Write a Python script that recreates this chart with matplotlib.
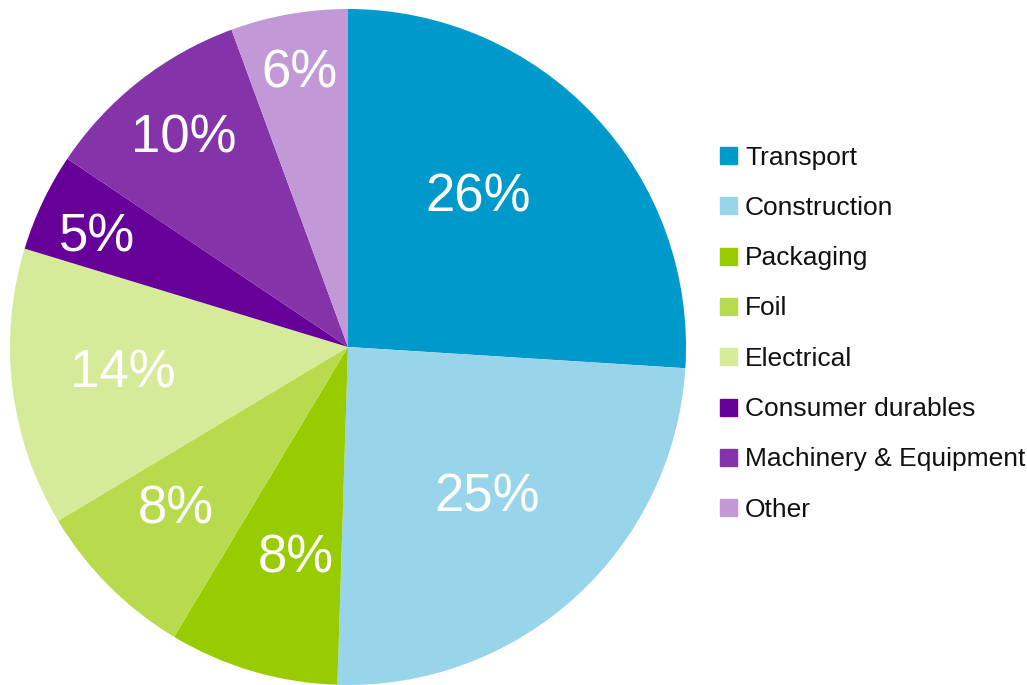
import matplotlib
matplotlib.use("Agg")
import numpy as np
import matplotlib.pyplot as plt
from matplotlib.patches import Rectangle

plt.rcParams['font.family'] = ['Liberation Sans', 'DejaVu Sans']

categories = ['Transport', 'Construction', 'Packaging', 'Foil', 'Electrical',
              'Consumer durables', 'Machinery & Equipment', 'Other']
shares = [26, 24.5, 8.1, 7.8, 13.3, 4.7, 10, 5.6]
pct_labels = ['26%', '25%', '8%', '8%', '14%', '5%', '10%', '6%']
colors = ['#0099CC', '#99D5EA', '#99CC00', '#B8DB4D', '#D6EB99',
          '#660099', '#8533A8', '#C299D6']
# label placement: fraction of radius, and angular nudge from the wedge middle (deg)
label_dist = [0.60, 0.594, 0.628, 0.689, 0.669, 0.817, 0.798, 0.837]
label_shift = [6.8, 1.5, 2.2, -2.6, -1.7, 0.8, -0.7, -0.3]

W, H = 1027, 685
fig = plt.figure(figsize=(W / 100, H / 100), dpi=100)

cx, cy, r = 348, 347, 338
ax = fig.add_axes([(cx - r) / W, (H - cy - r) / H, 2 * r / W, 2 * r / H])
wedges, _ = ax.pie(shares, colors=colors, startangle=90, counterclock=False,
                   radius=1, wedgeprops=dict(linewidth=0))
ax.set_xlim(-1, 1)
ax.set_ylim(-1, 1)
ax.set_aspect('equal')
ax.axis('off')

for w, lab, d, s in zip(wedges, pct_labels, label_dist, label_shift):
    ang = np.deg2rad((w.theta1 + w.theta2) / 2 + s)
    ax.text(d * np.cos(ang), d * np.sin(ang), lab, color='white',
            fontsize=38, ha='center', va='center_baseline')

# legend
y0, step = 155.5, 50.3
for i, (name, c) in enumerate(zip(categories, colors)):
    y = y0 + i * step
    fig.patches.append(Rectangle((720 / W, (H - y - 8.5) / H), 17 / W, 17 / H,
                                 transform=fig.transFigure, color=c))
    fig.text(745 / W, (H - y - 9) / H, name, fontsize=19, va='baseline', ha='left',
             color='#111111')

fig.savefig('out.png', dpi=100)
